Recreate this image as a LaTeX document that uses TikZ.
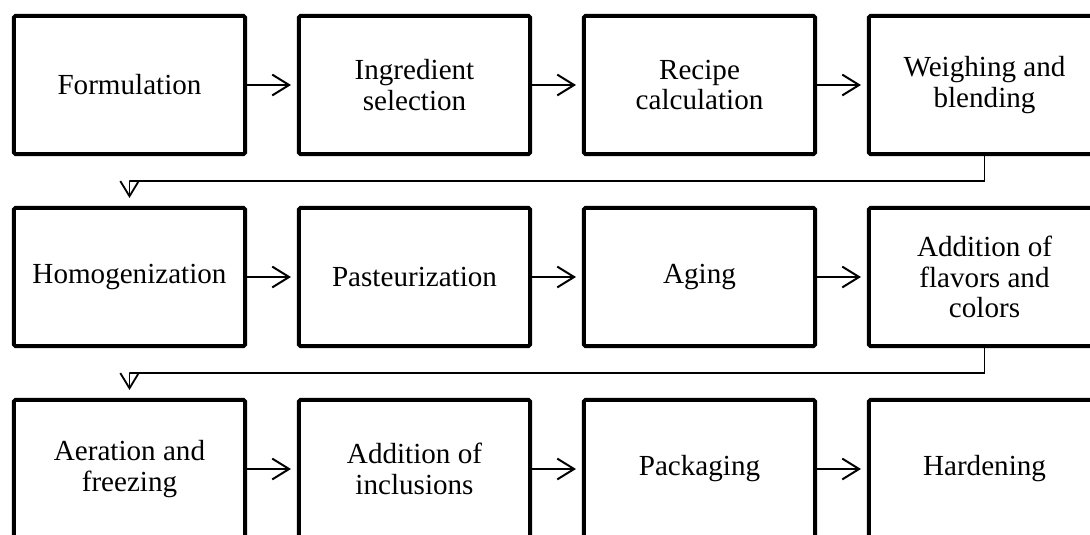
\documentclass[tikz,border=0pt]{standalone}
\usepackage{fontspec}
\setmainfont{Liberation Serif}
\usetikzlibrary{positioning,calc,arrows.meta}

\begin{document}
\begin{tikzpicture}[
        x=0.025cm, y=-0.025cm,
        process/.style={
            rectangle, draw=black, line width=0.1cm, fill=white,
            minimum width=5.775cm, minimum height=3.45cm,
            font=\fontsize{20.7pt}{21.8pt}\selectfont, align=center,
            rounded corners=1pt, inner sep=2pt
          },
        flow/.style={-{Straight Barb[length=0.42cm,width=0.52cm,line width=0.05cm]},
            line width=0.05cm, draw=black, shorten >=0.15cm},
        wrap/.style={-{Straight Barb[length=0.38cm,width=0.46cm,line width=0.045cm]},
            line width=0.04cm, draw=black, shorten >=0.2cm},
      ]
      \useasboundingbox (0,0) rectangle (1090,534);

      % First row
      \node [process] (form) at (129.5, 85) {Formulation};
      \node [process] (ingr) at (414.5, 85) {Ingredient\\selection};
      \node [process] (calc) at (699.5, 85) {Recipe\\calculation};
      \node [process] (weigh) at (984.5, 85) {Weighing and\\blending};

      % Second row
      \node [process] (homog) at (129.5, 277) {Homogenization};
      \node [process] (past) at (414.5, 277) {Pasteurization};
      \node [process] (aging) at (699.5, 277) {Aging};
      \node [process] (flav) at (984.5, 277) {Addition of\\flavors and\\colors};

      % Third row
      \node [process] (aer) at (129.5, 469) {Aeration and\\freezing};
      \node [process] (incl) at (414.5, 469) {Addition of\\inclusions};
      \node [process] (pack) at (699.5, 469) {Packaging};
      \node [process] (hard) at (984.5, 469) {Hardening};

      % Arrows within rows
      \draw [flow] (form) -- (ingr);
      \draw [flow] (ingr) -- (calc);
      \draw [flow] (calc) -- (weigh);
      \draw [flow] (homog) -- (past);
      \draw [flow] (past) -- (aging);
      \draw [flow] (aging) -- (flav);
      \draw [flow] (aer) -- (incl);
      \draw [flow] (incl) -- (pack);
      \draw [flow] (pack) -- (hard);

      % Row changes
      \draw [wrap] (weigh.south) |- ($(form.south)!0.5!(homog.north)$) -| (homog.north);
      \draw [wrap] (flav.south) |- ($(homog.south)!0.5!(aer.north)$) -| (aer.north);
    \end{tikzpicture}
\end{document}
